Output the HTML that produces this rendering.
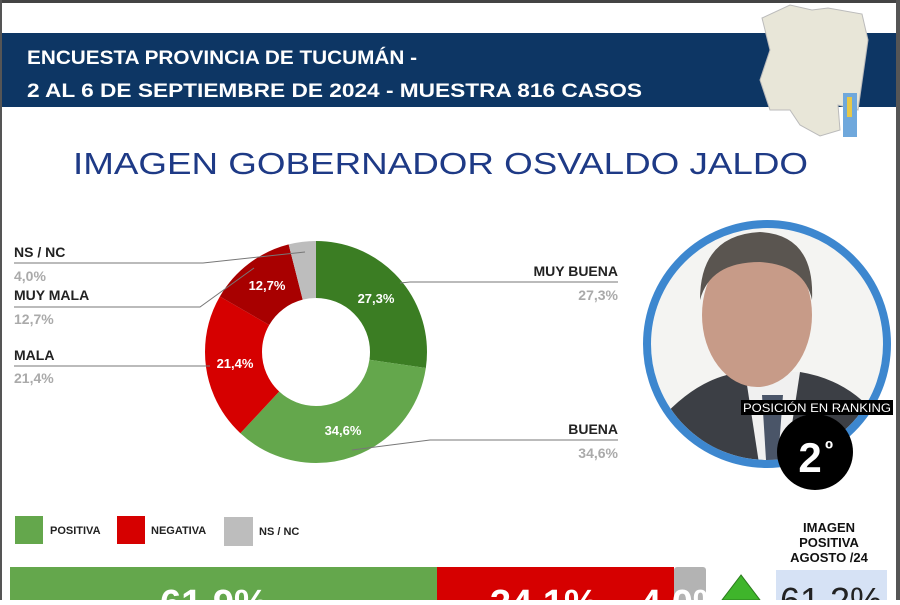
<!DOCTYPE html>
<html><head><meta charset="utf-8"><style>
body{margin:0;width:900px;height:600px;overflow:hidden;background:#fff;font-family:"Liberation Sans",sans-serif;}
</style></head><body>
<svg width="900" height="600" viewBox="0 0 900 600" xmlns="http://www.w3.org/2000/svg" font-family="Liberation Sans, sans-serif">
<rect x="0" y="0" width="900" height="600" fill="#fff"/>
<rect x="0" y="0" width="900" height="3" fill="#444"/>
<rect x="0" y="0" width="2" height="600" fill="#555"/>
<rect x="896" y="0" width="4" height="600" fill="#555"/>
<rect x="2" y="33" width="894" height="74" fill="#0d3664"/>
<text x="27" y="64" fill="#fff" font-size="19" font-weight="bold" textLength="390" lengthAdjust="spacingAndGlyphs">ENCUESTA PROVINCIA DE TUCUMÁN -</text>
<text x="27" y="97" fill="#fff" font-size="19" font-weight="bold" textLength="615" lengthAdjust="spacingAndGlyphs">2 AL 6 DE SEPTIEMBRE DE 2024 - MUESTRA 816 CASOS</text>
<!-- map -->
<polygon points="762,18 790,5 812,10 828,8 862,14 868,40 858,110 838,105 840,130 820,136 800,125 790,110 770,110 760,80 770,50" fill="#e8e6d8" stroke="#bbb" stroke-width="1"/>
<rect x="843" y="93" width="14" height="44" fill="#6fa8dc"/>
<rect x="847" y="97" width="5" height="20" fill="#e6c84a"/>
<text x="73" y="174" fill="#1e3a86" font-size="31" textLength="735" lengthAdjust="spacingAndGlyphs">IMAGEN GOBERNADOR   OSVALDO JALDO</text>
<!-- donut -->
<g transform="rotate(-90 316 352)" fill="none" stroke-width="57">
<circle cx="316" cy="352" r="82.5" stroke="#3b7d23" stroke-dasharray="141.5 600" stroke-dashoffset="0"/>
<circle cx="316" cy="352" r="82.5" stroke="#64a74c" stroke-dasharray="179.4 600" stroke-dashoffset="-141.5"/>
<circle cx="316" cy="352" r="82.5" stroke="#d60000" stroke-dasharray="110.9 600" stroke-dashoffset="-320.9"/>
<circle cx="316" cy="352" r="82.5" stroke="#a80000" stroke-dasharray="65.8 600" stroke-dashoffset="-431.8"/>
<circle cx="316" cy="352" r="82.5" stroke="#bdbdbd" stroke-dasharray="20.8 600" stroke-dashoffset="-497.6"/>
</g>
<g fill="#fff" font-size="13" font-weight="bold" text-anchor="middle">
<text x="376" y="303">27,3%</text>
<text x="343" y="435">34,6%</text>
<text x="235" y="368">21,4%</text>
<text x="267" y="290">12,7%</text>
</g>
<g stroke="#777" fill="none" stroke-width="1">
<polyline points="14,263 203,263 305,252"/>
<polyline points="14,307 200,307 254,268"/>
<polyline points="14,366 210,366"/>
<polyline points="618,282 410,282 400,283"/>
<polyline points="618,440 430,440 352,450"/>
</g>
<g font-size="14" font-weight="bold">
<text x="14" y="257" fill="#222">NS / NC</text>
<text x="14" y="281" fill="#aaa">4,0%</text>
<text x="14" y="300" fill="#222">MUY MALA</text>
<text x="14" y="324" fill="#aaa">12,7%</text>
<text x="14" y="360" fill="#222">MALA</text>
<text x="14" y="383" fill="#aaa">21,4%</text>
<text x="618" y="276" fill="#222" text-anchor="end">MUY BUENA</text>
<text x="618" y="300" fill="#aaa" text-anchor="end">27,3%</text>
<text x="618" y="434" fill="#222" text-anchor="end">BUENA</text>
<text x="618" y="458" fill="#aaa" text-anchor="end">34,6%</text>
</g>
<!-- photo -->
<defs><clipPath id="c"><circle cx="767" cy="344" r="116"/></clipPath></defs>
<circle cx="767" cy="344" r="116" fill="#f4f4f2"/>
<g clip-path="url(#c)">
<path d="M660,420 Q700,375 745,372 L800,372 Q850,380 880,420 L880,470 L660,470Z" fill="#3c3f45"/>
<polygon points="745,372 800,372 785,470 760,470" fill="#f0f0f0"/>
<polygon points="762,395 783,395 778,460 766,460" fill="#4a5568"/>
<ellipse cx="757" cy="315" rx="55" ry="72" fill="#c79b88"/>
<path d="M700,300 Q700,235 760,232 Q815,235 812,300 Q805,265 760,262 Q710,262 700,300Z" fill="#5a5550"/>
</g>
<circle cx="767" cy="344" r="120" fill="none" stroke="#3d87cf" stroke-width="8"/>
<rect x="741" y="400" width="152" height="15" fill="#000"/>
<text x="817" y="412" text-anchor="middle" fill="#fff" font-size="11.5" textLength="148" lengthAdjust="spacingAndGlyphs">POSICIÓN EN RANKING</text>
<circle cx="815" cy="452" r="38" fill="#000"/>
<text x="810" y="472" text-anchor="middle" fill="#fff" font-size="42" font-weight="bold">2</text>
<text x="829" y="456" text-anchor="middle" fill="#fff" font-size="22" font-weight="bold">º</text>
<!-- legend -->
<rect x="15" y="516" width="28" height="28" fill="#64a74c"/>
<text x="50" y="534" font-size="11" font-weight="bold" fill="#222">POSITIVA</text>
<rect x="117" y="516" width="28" height="28" fill="#d60000"/>
<text x="151" y="534" font-size="11" font-weight="bold" fill="#222">NEGATIVA</text>
<rect x="224" y="517" width="29" height="29" fill="#bdbdbd"/>
<text x="259" y="535" font-size="11" font-weight="bold" fill="#222">NS / NC</text>
<g font-size="13" font-weight="bold" fill="#111" text-anchor="middle">
<text x="829" y="532">IMAGEN</text>
<text x="829" y="547">POSITIVA</text>
<text x="829" y="562">AGOSTO /24</text>
</g>
<!-- bar -->
<rect x="10" y="567" width="427" height="40" fill="#64a74c"/>
<rect x="437" y="567" width="237" height="40" fill="#d60000"/>
<rect x="674" y="567" width="32" height="40" rx="3" fill="#b3b3b3"/>
<g fill="#fff" font-size="38" font-weight="bold">
<text x="160" y="616">61,9%</text>
<text x="490" y="616">34,1%</text>
<text x="640" y="616">4,0%</text>
</g>
<polygon points="741,575 722,600 760,600" fill="#3fb52b" stroke="#2a7a1d" stroke-width="1"/>
<rect x="776" y="570" width="111" height="40" fill="#d6e2f5"/>
<text x="831" y="613" text-anchor="middle" font-size="36" fill="#222">61,2%</text>
</svg>
</body></html>
